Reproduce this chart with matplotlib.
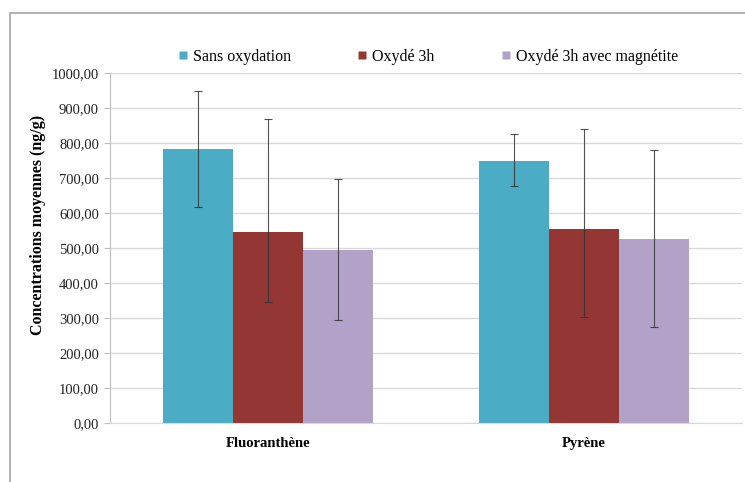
import matplotlib
matplotlib.use("Agg")
import matplotlib.pyplot as plt
from matplotlib.patches import Rectangle
from matplotlib.ticker import FuncFormatter
from matplotlib.lines import Line2D
import numpy as np

categories = ["Fluoranthène", "Pyrène"]
series_names = ["Sans oxydation", "Oxydé 3h", "Oxydé 3h avec magnétite"]
sans_oxydation = [783, 750]
oxyde_3h = [547, 554]
oxyde_magnetite = [494, 526]
# error bars (lower, upper)
err_sans_low = [166, 72]
err_sans_high = [166, 76]
err_oxyde_low = [200, 252]
err_oxyde_high = [321, 287]
err_magnetite_low = [200, 253]
err_magnetite_high = [203, 254]
yticks = [0, 100, 200, 300, 400, 500, 600, 700, 800, 900, 1000]

colors = ["#4BACC6", "#943634", "#B2A2C7"]

plt.rcParams['font.family'] = ['Liberation Serif', 'DejaVu Serif']

W, H = 745, 482
fig = plt.figure(figsize=(W / 100, H / 100), dpi=100)

# outer frame
fig.patches.append(Rectangle((9.5 / W, -0.1), 2.0, (H - 13) / H + 0.1,
                             transform=fig.transFigure, fill=False,
                             edgecolor="#A6A6A6", linewidth=1.2))

left, right, top, bottom = 110 / W, 742 / W, 73 / H, 423 / H
ax = fig.add_axes([left, 1 - bottom, right - left, bottom - top])

x = np.arange(len(categories))
bw = 2 / 9
values = [sans_oxydation, oxyde_3h, oxyde_magnetite]
errs = [(err_sans_low, err_sans_high), (err_oxyde_low, err_oxyde_high),
        (err_magnetite_low, err_magnetite_high)]
for i, (vals, er, c, name) in enumerate(zip(values, errs, colors, series_names)):
    pos = x + (i - 1) * bw
    ax.bar(pos, vals, width=bw, color=c, label=name, zorder=2, edgecolor="none")
    ax.errorbar(pos, vals, yerr=[er[0], er[1]], fmt="none", ecolor="#333333",
                elinewidth=0.8, capsize=3, capthick=0.8, zorder=3, alpha=0.85)

ax.set_xlim(-0.5, 1.5)
ax.set_ylim(0, 1000)
ax.set_yticks(yticks)
ax.yaxis.set_major_formatter(FuncFormatter(lambda v, p: f"{v:.2f}".replace(".", ",")))
ax.set_xticks(x)
ax.set_xticklabels(categories, fontweight="bold", fontsize=10.5)
ax.tick_params(axis="x", length=0, pad=10)
ax.tick_params(axis="y", length=4, color="#BFBFBF", labelsize=10.5, pad=4,
               labelcolor="#222222")
ax.grid(axis="y", color="#D9D9D9", linewidth=1, zorder=0)
ax.set_axisbelow(True)
for s in ["top", "right"]:
    ax.spines[s].set_visible(False)
ax.spines["left"].set_color("#BFBFBF")
ax.spines["bottom"].set_color("#D9D9D9")
ax.set_ylabel("Concentrations moyennes (ng/g)", fontweight="bold", fontsize=11.5)
ax.yaxis.set_label_coords(-0.101, 0.566)

hs = [Line2D([], [], marker="s", linestyle="none", markersize=6,
             markerfacecolor=c, markeredgecolor="none") for c in colors]
fig.legend(hs, series_names, loc="center", bbox_to_anchor=(428 / W, 1 - 57 / H),
           ncol=3, frameon=False, fontsize=11.5, handlelength=0.6,
           handletextpad=0.3, columnspacing=4.18)

fig.savefig("out.png", dpi=100)
